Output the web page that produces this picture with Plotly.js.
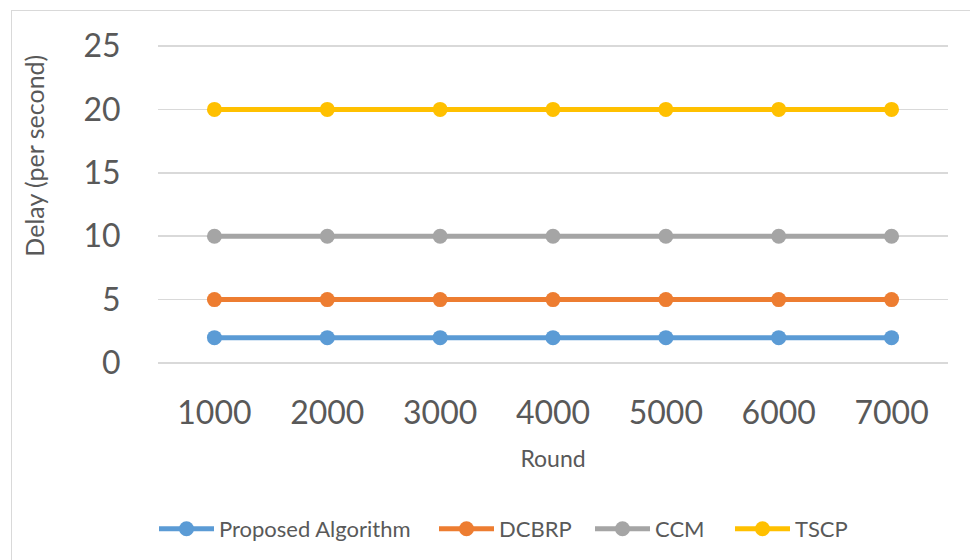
<!DOCTYPE html>
<html>
<head>
<meta charset="utf-8">
<script src="https://cdn.plot.ly/plotly-3.0.1.min.js"></script>
<style>
  html, body { margin: 0; padding: 0; background: #ffffff; }
  #wrap { position: relative; width: 970px; height: 560px; }
  #chart { position: absolute; left: 0; top: 0; width: 970px; height: 560px; }
  #frame { position: absolute; left: 11px; top: 10px; width: 980px; height: 580px;
           border-left: 1.5px solid #d9d9d9; border-top: 1.5px solid #d9d9d9; pointer-events: none; }
</style>
</head>
<body>
<div id="wrap">
  <div id="chart"></div>
  <div id="frame"></div>
</div>
<script>
const rounds = ['1000', '2000', '3000', '4000', '5000', '6000', '7000'];
const proposed = [2, 2, 2, 2, 2, 2, 2];
const dcbrp = [5, 5, 5, 5, 5, 5, 5];
const ccm = [10, 10, 10, 10, 10, 10, 10];
const tscp = [20, 20, 20, 20, 20, 20, 20];
const yTicks = [0, 5, 10, 15, 20, 25];
const seriesNames = ['Proposed Algorithm', 'DCBRP', 'CCM', 'TSCP'];
const seriesColors = ['#5B9BD5', '#ED7D31', '#A5A5A5', '#FFC000'];
const seriesData = [proposed, dcbrp, ccm, tscp];
const legendIds = ['legend', 'legend2', 'legend3', 'legend4'];
const legendLeft = [154, 434, 590, 730];

const traces = seriesData.map((vals, i) => ({
  x: rounds,
  y: vals,
  name: seriesNames[i],
  type: 'scatter',
  mode: 'lines+markers',
  legend: legendIds[i],
  line: { color: seriesColors[i], width: 5 },
  marker: { color: seriesColors[i], size: 15 }
}));

const FONT = 'Lato, "Open Sans", sans-serif';
const PAD = 0.2358;
const layout = {
  width: 970,
  height: 560,
  margin: { l: 158, r: 22, t: 43, b: 193 },
  paper_bgcolor: 'rgba(0,0,0,0)',
  plot_bgcolor: 'rgba(0,0,0,0)',
  font: { family: FONT, color: '#595959' },
  showlegend: true,
  xaxis: {
    type: 'category',
    range: [-0.5, 6.5],
    showgrid: false,
    zeroline: false,
    showline: false,
    ticks: 'outside',
    ticklen: 19,
    tickcolor: 'rgba(0,0,0,0)',
    tickfont: { family: FONT, size: 32, color: '#595959' },
    title: { text: 'Round', font: { family: FONT, size: 23, color: '#595959' }, standoff: 20 }
  },
  yaxis: {
    range: [yTicks[0] - PAD, yTicks[yTicks.length - 1] + PAD],
    tickvals: yTicks,
    showgrid: true,
    gridcolor: '#d9d9d9',
    gridwidth: 1.5,
    zeroline: false,
    showline: false,
    ticks: 'outside',
    ticklen: 30,
    tickcolor: 'rgba(0,0,0,0)',
    tickfont: { family: FONT, size: 32, color: '#595959' }
  },
  annotations: [{
    text: 'Delay (per second)',
    xref: 'paper', yref: 'paper',
    x: (34 - 158) / 790, y: (367 - 156) / 324,
    xanchor: 'center', yanchor: 'middle',
    textangle: -90,
    showarrow: false,
    font: { family: FONT, size: 25, color: '#595959' }
  }]
};

legendIds.forEach((id, i) => {
  layout[id] = {
    orientation: 'h',
    x: (legendLeft[i] - 158) / 790, xanchor: 'left',
    y: -0.5, yanchor: 'middle',
    bgcolor: 'rgba(0,0,0,0)',
    font: { family: FONT, size: 22, color: '#595959' },
    itemwidth: 55
  };
});

Plotly.newPlot('chart', traces, layout, { displayModeBar: false, staticPlot: true });
</script>
</body>
</html>
